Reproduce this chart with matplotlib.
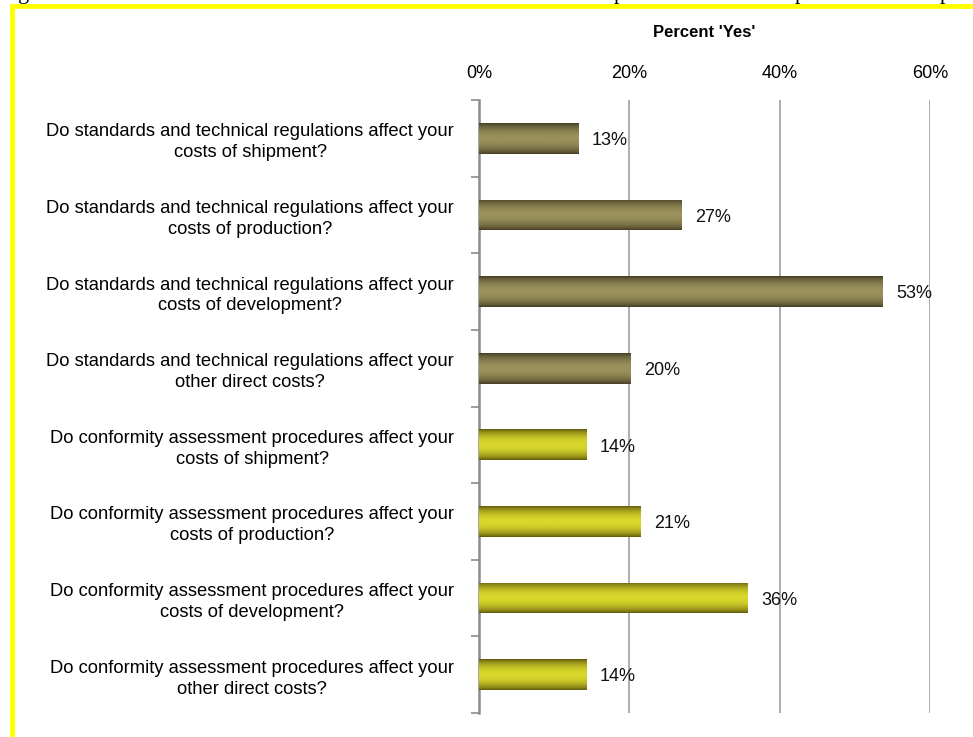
"""
Survey chart: share of firms answering 'Yes' on cost effects of
standards / conformity assessment procedures.
"""

import numpy as np
import matplotlib.pyplot as plt
from matplotlib.colors import LinearSegmentedColormap
from matplotlib.patches import Rectangle

plt.rcParams['font.family'] = ['Liberation Sans', 'DejaVu Sans']

questions = [
    "Do standards and technical regulations affect your\ncosts of shipment?",
    "Do standards and technical regulations affect your\ncosts of production?",
    "Do standards and technical regulations affect your\ncosts of development?",
    "Do standards and technical regulations affect your\nother direct costs?",
    "Do conformity assessment procedures affect your\ncosts of shipment?",
    "Do conformity assessment procedures affect your\ncosts of production?",
    "Do conformity assessment procedures affect your\ncosts of development?",
    "Do conformity assessment procedures affect your\nother direct costs?",
]
pct_yes = [0.132, 0.269, 0.537, 0.202, 0.143, 0.215, 0.357, 0.143]
pct_labels = ["13%", "27%", "53%", "20%", "14%", "21%", "36%", "14%"]
group = ["std", "std", "std", "std", "cap", "cap", "cap", "cap"]
x_ticks = [0, 0.2, 0.4, 0.6]
x_ticklabels = ["0%", "20%", "40%", "60%"]

# edge / centre colours of the shaded bars
shades = {
    "std": ("#433b22", "#9a915c"),
    "cap": ("#5e580a", "#d9d72c"),
}

fig = plt.figure(figsize=(9.73, 7.37), dpi=100)
ax = fig.add_axes([479 / 973, 1 - 713 / 737, 451 / 973, 613 / 737])

n = len(questions)
ypos = np.arange(n)
bars = ax.barh(ypos, pct_yes, height=0.4, color="none", edgecolor="none")

# vertical shading profile: dark edges, light middle
t = np.linspace(0, 1, 64)
prof = np.sin(np.pi * t) ** 0.7
for bar, g in zip(bars, group):
    cmap = LinearSegmentedColormap.from_list(g, list(shades[g]))
    x0, y0 = bar.get_x(), bar.get_y()
    w, h = bar.get_width(), bar.get_height()
    im = ax.imshow(prof[:, None], cmap=cmap, aspect="auto", vmin=0, vmax=1,
                   extent=(x0, x0 + w, y0 + h, y0), zorder=3,
                   interpolation="bilinear")
    im.set_clip_path(bar)

for y, v, lab in zip(ypos, pct_yes, pct_labels):
    ax.text(v + 0.018, y + 0.03, lab, va="center", ha="left", fontsize=13,
            color="#111111", zorder=4)

ax.set_xlim(0, 0.6)
ax.set_ylim(n - 0.5, -0.5)

ax.xaxis.tick_top()
ax.set_xticks(x_ticks)
ax.set_xticklabels(x_ticklabels, fontsize=13)
ax.tick_params(axis="x", length=0, pad=13)
ax.set_xlabel("Percent 'Yes'", fontsize=12, fontweight="bold", labelpad=20)
ax.xaxis.set_label_position("top")
ax.grid(axis="x", color="#a0a0a0", linewidth=1.2, zorder=0)
ax.set_axisbelow(True)

# boundary ticks on the category axis, labels centred on the bars
ax.set_yticks(np.arange(-0.5, n, 1.0))
ax.set_yticklabels([])
ax.tick_params(axis="y", which="major", length=6, color="#8c8c8c", width=1.2)
ax.set_yticks(ypos, minor=True)
ax.set_yticklabels(questions, minor=True, fontsize=13.2,
                   multialignment="center", linespacing=1.3)
ax.tick_params(axis="y", which="minor", length=0, pad=18)

for s in ["top", "right", "bottom"]:
    ax.spines[s].set_visible(False)
ax.spines["left"].set_color("#8c8c8c")
ax.spines["left"].set_linewidth(1.8)

# yellow frame around the chart
fig.patches.append(Rectangle((12 / 973, -0.05), 1.05, 1 - 6 / 737 + 0.05,
                             transform=fig.transFigure, fill=False,
                             edgecolor="#ffff00", linewidth=3.5))

# descenders of the caption line cut off above the frame
for xp, ch in [(18, "g"), (614, "p"), (795, "p"), (940, "p")]:
    fig.text(xp / 973, 1 + 1 / 737, ch, fontsize=16, family="Liberation Serif",
             va="baseline", ha="left")

fig.savefig("out.png", dpi=100)
